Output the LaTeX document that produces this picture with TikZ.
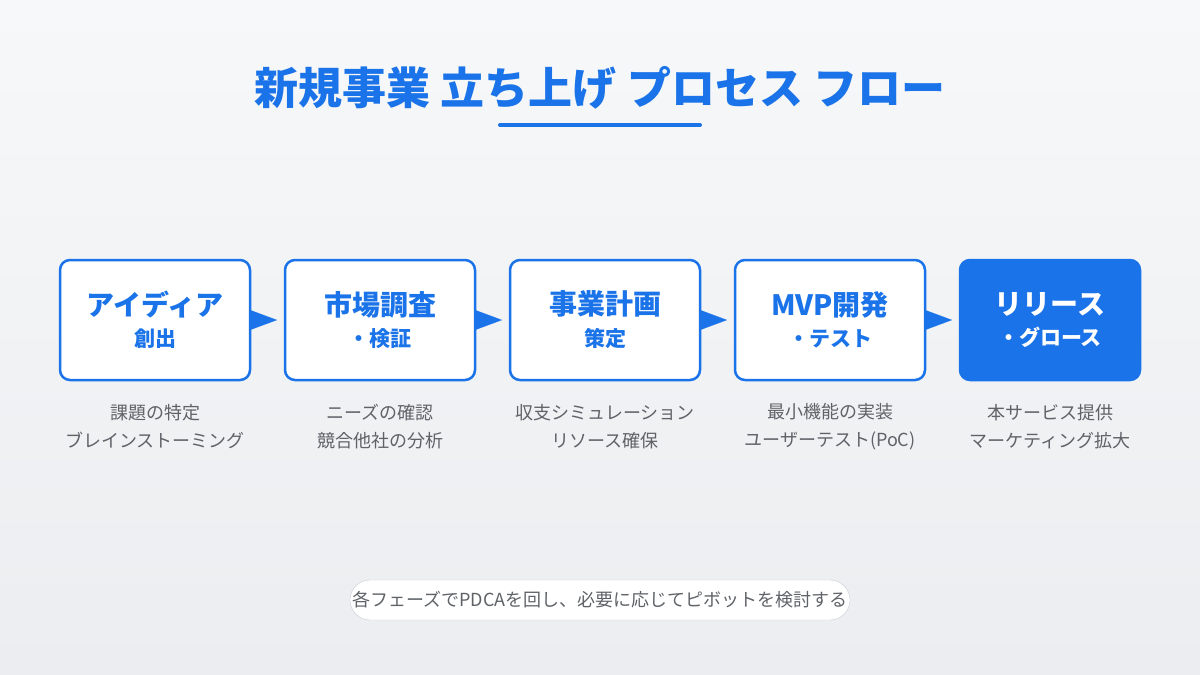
\documentclass[tikz,border=0pt]{standalone}
\usepackage{fontspec}
\setmainfont{Noto Sans CJK JP}
\usetikzlibrary{arrows.meta}

\definecolor{flowblue}{HTML}{1A73E8}
\definecolor{descgray}{HTML}{5F6368}
\definecolor{pillgray}{HTML}{C8CCD1}
\definecolor{bgtop}{HTML}{F7F8F9}
\definecolor{bgbottom}{HTML}{EBEDF0}

\tikzset{
stepbox/.style={
	draw 		= flowblue,
	line width 	= 2.5pt,
	fill 		= white,
	rounded corners = 10pt,
	outer sep 	= 0pt,
	minimum width 	= 190pt,
	minimum height 	= 120pt,
	align 		= center,
	text 		= flowblue,
	font 		= \bfseries},
lastbox/.style={
	stepbox,
	fill 		= flowblue,
	text 		= white,
	minimum width 	= 180pt},
desc/.style={
	text 		= descgray,
	align 		= center,
	font 		= \fontsize{18}{28}\selectfont},
flowarrow/.style={
	-{Triangle[length=27pt,width=20pt]},
	flowblue,
	line width 	= 0.1pt,
	shorten > 	= 8pt}
}

\newcommand{\steptext}[2]{{\fontsize{28}{32}\selectfont #1}\\[10pt]{\fontsize{21}{26}\selectfont #2}}

\begin{document}
\begin{tikzpicture}[x=1pt,y=-1pt]
%\draw[help lines] (0,0) grid (1200,675);
\useasboundingbox (0,0) rectangle (1200,675);
\shade[top color=bgtop, bottom color=bgbottom] (0,0) rectangle (1200,675);

% title
\node[text=flowblue, font=\fontsize{44}{50}\selectfont\bfseries] (title) at (600,88) {新規事業 立ち上げ プロセス フロー};
\draw[flowblue, line width=4pt, line cap=round] (500,125) -- (700,125);

% steps
\node[stepbox] (idea) at (155,320) {\steptext{アイディア}{創出}};
\node[stepbox] (research) at (380,320) {\steptext{市場調査}{・検証}};
\node[stepbox] (plan) at (605,320) {\steptext{事業計画}{策定}};
\node[stepbox] (mvp) at (830,320) {\steptext{MVP開発}{・テスト}};
\node[lastbox] (release) at (1050,320) {\steptext{リリース}{・グロース}};

\draw[flowarrow] (idea) -- (research);
\draw[flowarrow] (research) -- (plan);
\draw[flowarrow] (plan) -- (mvp);
\draw[flowarrow] (mvp) -- (release);

% details
\node[desc] (ideadesc) at (155,427) {課題の特定\\ブレインストーミング};
\node[desc] (researchdesc) at (380,427) {ニーズの確認\\競合他社の分析};
\node[desc] (plandesc) at (605,427) {収支シミュレーション\\リソース確保};
\node[desc] (mvpdesc) at (830,427) {最小機能の実装\\ユーザーテスト(PoC)};
\node[desc] (releasedesc) at (1050,427) {本サービス提供\\マーケティング拡大};

% note
\node[draw=pillgray, fill=white, rounded corners=20pt, minimum width=500pt, minimum height=40pt,
	inner xsep=2pt, text=descgray, font=\fontsize{18}{20}\selectfont] (note) at (600,600) {各フェーズでPDCAを回し、必要に応じてピボットを検討する};
\end{tikzpicture}
\end{document}
